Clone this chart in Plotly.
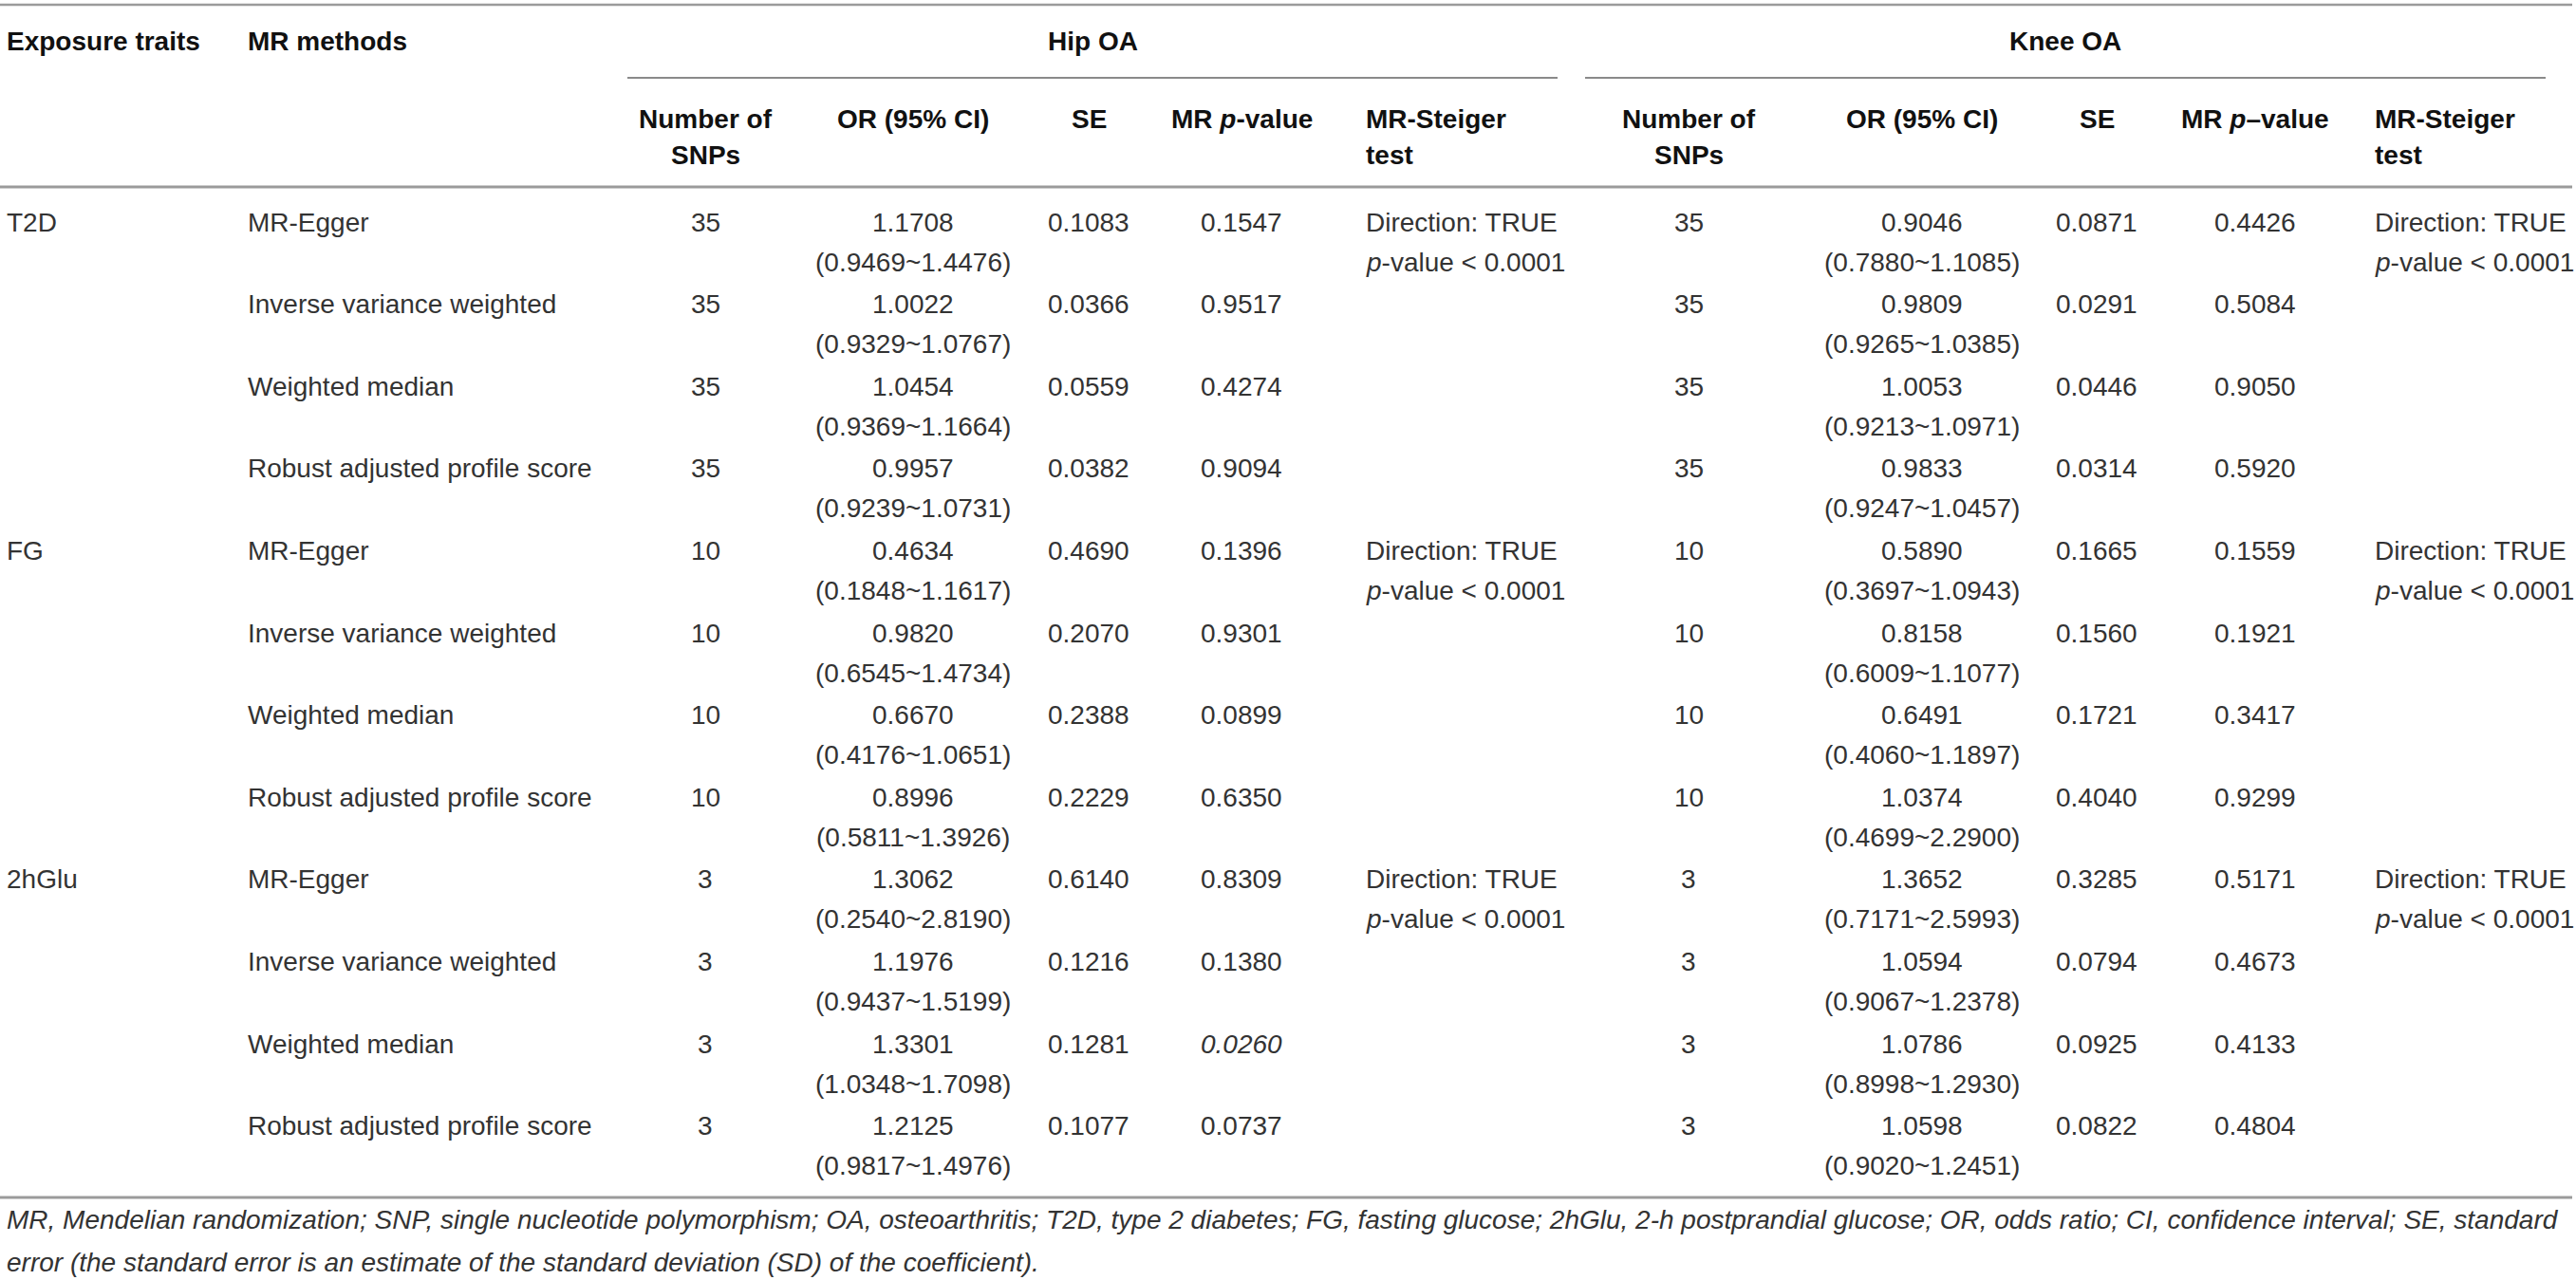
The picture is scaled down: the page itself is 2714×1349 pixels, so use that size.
import plotly.graph_objects as go

# ---------------- data ----------------
exposures = ["T2D", "FG", "2hGlu"]
methods = ["MR-Egger", "Inverse variance weighted", "Weighted median",
           "Robust adjusted profile score"]

hip_n = [35, 35, 35, 35, 10, 10, 10, 10, 3, 3, 3, 3]
hip_or = [1.1708, 1.0022, 1.0454, 0.9957, 0.4634, 0.9820, 0.6670, 0.8996,
          1.3062, 1.1976, 1.3301, 1.2125]
hip_lo = [0.9469, 0.9329, 0.9369, 0.9239, 0.1848, 0.6545, 0.4176, 0.5811,
          0.2540, 0.9437, 1.0348, 0.9817]
hip_hi = [1.4476, 1.0767, 1.1664, 1.0731, 1.1617, 1.4734, 1.0651, 1.3926,
          2.8190, 1.5199, 1.7098, 1.4976]
hip_se = [0.1083, 0.0366, 0.0559, 0.0382, 0.4690, 0.2070, 0.2388, 0.2229,
          0.6140, 0.1216, 0.1281, 0.1077]
hip_p = [0.1547, 0.9517, 0.4274, 0.9094, 0.1396, 0.9301, 0.0899, 0.6350,
         0.8309, 0.1380, 0.0260, 0.0737]

knee_n = [35, 35, 35, 35, 10, 10, 10, 10, 3, 3, 3, 3]
knee_or = [0.9046, 0.9809, 1.0053, 0.9833, 0.5890, 0.8158, 0.6491, 1.0374,
           1.3652, 1.0594, 1.0786, 1.0598]
knee_lo = [0.7880, 0.9265, 0.9213, 0.9247, 0.3697, 0.6009, 0.4060, 0.4699,
           0.7171, 0.9067, 0.8998, 0.9020]
knee_hi = [1.1085, 1.0385, 1.0971, 1.0457, 1.0943, 1.1077, 1.1897, 2.2900,
           2.5993, 1.2378, 1.2930, 1.2451]
knee_se = [0.0871, 0.0291, 0.0446, 0.0314, 0.1665, 0.1560, 0.1721, 0.4040,
           0.3285, 0.0794, 0.0925, 0.0822]
knee_p = [0.4426, 0.5084, 0.9050, 0.5920, 0.1559, 0.1921, 0.3417, 0.9299,
          0.5171, 0.4673, 0.4133, 0.4804]

hip_steiger_direction = ["TRUE", "TRUE", "TRUE"]
hip_steiger_p = ["< 0.0001", "< 0.0001", "< 0.0001"]
knee_steiger_direction = ["TRUE", "TRUE", "TRUE"]
knee_steiger_p = ["< 0.0001", "< 0.0001", "< 0.0001"]

header_top = ["Exposure traits", "MR methods"]
groups = ["Hip OA", "Knee OA"]
hip_sub = [["Number of", "SNPs"], ["OR (95% CI)"], ["SE"],
           ["MR <i>p</i>-value"], ["MR-Steiger", "test"]]
knee_sub = [["Number of", "SNPs"], ["OR (95% CI)"], ["SE"],
            ["MR <i>p</i>–value"], ["MR-Steiger", "test"]]

footnote = [
    "MR, Mendelian randomization; SNP, single nucleotide polymorphism; OA, osteoarthritis; "
    "T2D, type 2 diabetes; FG, fasting glucose; 2hGlu, 2-h postprandial glucose; OR, odds ratio; "
    "CI, confidence interval; SE, standard",
    "error (the standard error is an estimate of the standard deviation (SD) of the coefficient).",
]

# ---------------- layout / style ----------------
W, H = 2714, 1349
FONT = "Liberation Sans, Arial, Helvetica, sans-serif"
FS = 28
TXT = "#333333"
HDR = "#111111"
LINE = "#9b9b9b"

X_EXP, X_METH = 5, 259
HIP_COLS = [743, 962, 1147, 1308, 1437]     # centers (last = left edge)
KNEE_COLS = [1779, 2025, 2209, 2376, 2500]
HIP_SPAN = (661, 1641)
KNEE_SPAN = (1670, 2682)
Y_TOP_HDR = 43
Y_SUB1, Y_SUB2 = 125, 163
ROW0, ROW_STEP, LINE2 = 234, 86.6, 42
Y_LINES = dict(top=5, group=82, head=197, bottom=1262)
X_END = 2710
FOOT_Y = [1285, 1330]
ITALIC_HIP_P = {10}

ann = []


def t(x, y, s, anchor="center", bold=False, italic=False, size=FS):
    color = TXT
    if bold:
        s = "<b>" + s + "</b>"
        color = HDR
    if italic:
        s = "<i>" + s + "</i>"
    ann.append(dict(x=x, y=y, xref="x", yref="y", text=s, showarrow=False,
                    xanchor=anchor, yanchor="middle",
                    font=dict(family=FONT, size=size, color=color)))


# headers
t(X_EXP, Y_TOP_HDR, header_top[0], "left", bold=True)
t(X_METH, Y_TOP_HDR, header_top[1], "left", bold=True)
t((HIP_SPAN[0] + HIP_SPAN[1]) / 2, Y_TOP_HDR, groups[0], bold=True)
t((KNEE_SPAN[0] + KNEE_SPAN[1]) / 2, Y_TOP_HDR, groups[1], bold=True)
for cols, subs in ((HIP_COLS, hip_sub), (KNEE_COLS, knee_sub)):
    for j, (cx, lines) in enumerate(zip(cols, subs)):
        anchor = "left" if j == 4 else "center"
        for k, s in enumerate(lines):
            t(cx, Y_SUB1 if k == 0 else Y_SUB2, s, anchor, bold=True)

# body
for i in range(12):
    y = ROW0 + i * ROW_STEP
    g, m = divmod(i, 4)
    if m == 0:
        t(X_EXP, y, exposures[g], "left")
    t(X_METH, y, methods[m], "left")
    for cols, n, orv, lo, hi, se, p, sd, sp, side in (
        (HIP_COLS, hip_n, hip_or, hip_lo, hip_hi, hip_se, hip_p,
         hip_steiger_direction, hip_steiger_p, "hip"),
        (KNEE_COLS, knee_n, knee_or, knee_lo, knee_hi, knee_se, knee_p,
         knee_steiger_direction, knee_steiger_p, "knee"),
    ):
        t(cols[0], y, str(n[i]))
        t(cols[1], y, f"{orv[i]:.4f}")
        t(cols[1], y + LINE2, f"({lo[i]:.4f}~{hi[i]:.4f})")
        t(cols[2], y, f"{se[i]:.4f}")
        t(cols[3], y, f"{p[i]:.4f}", italic=(side == "hip" and i in ITALIC_HIP_P))
        if m == 0:
            t(cols[4], y, f"Direction: {sd[g]}", "left")
            t(cols[4], y + LINE2, f"<i>p</i>-value {sp[g]}", "left")

# footnote
for k, s in enumerate(footnote):
    t(X_EXP, FOOT_Y[k], s, "left", italic=True)

# rules
shapes = []


def hline(x0, x1, y, w=2.5, c=LINE):
    shapes.append(dict(type="line", xref="x", yref="y", x0=x0, x1=x1, y0=y, y1=y,
                       line=dict(color=c, width=w)))


hline(0, X_END, Y_LINES["top"])
hline(HIP_SPAN[0], HIP_SPAN[1], Y_LINES["group"], 2, "#8a8a8a")
hline(KNEE_SPAN[0], KNEE_SPAN[1], Y_LINES["group"], 2, "#8a8a8a")
hline(0, X_END, Y_LINES["head"], 3)
hline(0, X_END, Y_LINES["bottom"], 3)

fig = go.Figure()
fig.add_trace(go.Scatter(x=[0, W], y=[0, H], mode="markers",
                         marker=dict(opacity=0), hoverinfo="skip", showlegend=False))
fig.update_layout(
    width=W, height=H, autosize=False,
    margin=dict(l=0, r=0, t=0, b=0),
    paper_bgcolor="white", plot_bgcolor="white",
    xaxis=dict(range=[0, W], visible=False, fixedrange=True),
    yaxis=dict(range=[H, 0], visible=False, fixedrange=True),
    annotations=ann, shapes=shapes, showlegend=False,
)
fig.write_html("out.html", config={"displayModeBar": False},
               post_script="document.body.style.margin='0';document.body.style.overflow='hidden';")
